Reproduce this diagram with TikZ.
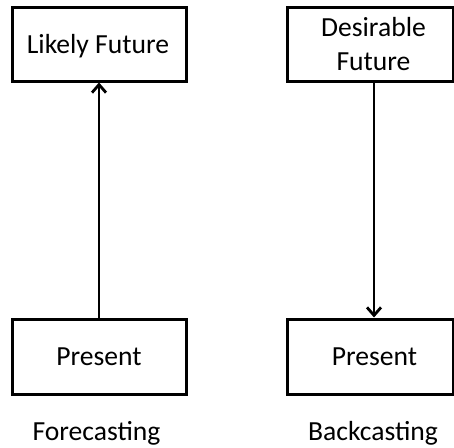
\documentclass[tikz,border=0pt]{standalone}
\usepackage{fontspec}
\setmainfont{Carlito}
\usetikzlibrary{arrows.meta}
\begin{document}
\begin{tikzpicture}[x=1pt,y=-1pt,
  box/.style={draw=black,line width=3pt,fill=white,inner sep=0pt},
  lbl/.style={font=\fontsize{27.6}{34}\selectfont,inner sep=0pt,anchor=base,align=center},
  flow/.style={line width=2.8pt,-{Straight Barb[length=8pt,width=14pt,line width=2.8pt]}}]
\useasboundingbox (0,0) rectangle (454,447);
% Forecasting column
\node[box,minimum width=174pt,minimum height=74pt] (lf) at (99,44) {};
\node[box,minimum width=174pt,minimum height=75pt] (lp) at (99,356.5) {};
\node[lbl] (lft) at (98,53) {Likely Future};
\node[lbl] (lpt) at (99,365) {Present};
\node[lbl] (fc) at (96.5,440) {Forecasting};
\draw[flow] (lp.north) -- (lf.south);
% Backcasting column
\node[box,minimum width=166pt,minimum height=74pt] (df) at (370,44) {};
\node[box,minimum width=166pt,minimum height=75pt] (rp) at (370,356.5) {};
\node[lbl] (dft) at (373.5,36) {Desirable};
\node[lbl] (dft2) at (373.5,70) {Future};
\node[lbl] (rpt) at (374.5,365) {Present};
\node[lbl] (bc) at (373,440) {Backcasting};
\draw[flow] ([xshift=4pt]df.south) -- ([xshift=4pt]rp.north);
\end{tikzpicture}
\end{document}
